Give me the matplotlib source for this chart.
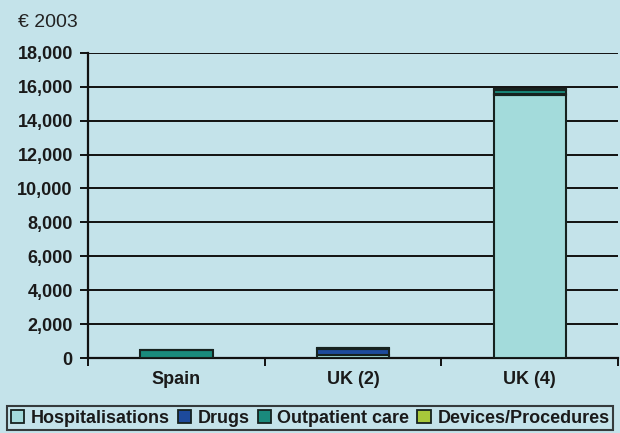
import numpy as np
import matplotlib.pyplot as plt
from matplotlib.patches import Patch

categories = ["Spain", "UK (2)", "UK (4)"]
hospitalisations = [30, 180, 15500]
drugs = [0, 380, 80]
outpatient = [420, 60, 250]
devices = [0, 0, 30]

series = ["Hospitalisations", "Drugs", "Outpatient care", "Devices/Procedures"]
colors = ["#a3dbdb", "#1d4a9c", "#1a8a7c", "#a8c83a"]
yticks = np.arange(0, 18001, 2000)

bg = "#c4e3ea"
plt.rcParams["font.family"] = ["Liberation Sans", "DejaVu Sans"]

fig = plt.figure(figsize=(6.2, 4.33), dpi=100, facecolor=bg)
ax = fig.add_axes([0.142, 0.173, 0.855, 0.705], facecolor=bg)

x = np.arange(len(categories))
bottom = np.zeros(len(categories))
for vals, c in zip([hospitalisations, drugs, outpatient, devices], colors):
    ax.bar(x, vals, 0.41, bottom=bottom, color=c, edgecolor="#16221f",
           linewidth=1.5, zorder=3)
    bottom += np.array(vals)

ax.set_xlim(-0.5, 2.5)
ax.set_ylim(0, 18000)
ax.set_yticks(yticks)
ax.set_yticklabels([f"{v:,}" for v in yticks], fontsize=13, fontweight="bold",
                   color="#1a1a1a")
ax.yaxis.grid(True, color="#111111", linewidth=1.4, zorder=0)
ax.set_axisbelow(True)

# category labels in the middle, ticks on the boundaries
ax.set_xticks(x)
ax.set_xticklabels(categories, fontsize=13, fontweight="bold", color="#1a1a1a")
ax.tick_params(axis="x", length=0, pad=9)
ax.set_xticks([-0.5, 0.5, 1.5, 2.5], minor=True)
ax.tick_params(axis="x", which="minor", length=6, width=1.4, direction="out", color="#111111")
ax.tick_params(axis="y", length=6, width=1.4, direction="out", color="#111111", pad=5)

for s in ["top", "right"]:
    ax.spines[s].set_visible(False)
for s in ["left", "bottom"]:
    ax.spines[s].set_linewidth(1.6)
    ax.spines[s].set_color("#111111")

fig.text(0.029, 0.948, "€ 2003", fontsize=14, color="#222222", va="center")

handles = [Patch(facecolor=c, edgecolor="#16221f", linewidth=1.3) for c in colors]
leg = fig.legend(handles, series, loc="lower center", bbox_to_anchor=(0.5, 0.0),
                 ncol=4, frameon=True, fancybox=False,
                 prop={"weight": "bold", "size": 13},
                 handlelength=0.75, handleheight=0.75, handletextpad=0.35,
                 columnspacing=0.45, borderpad=0.2, borderaxespad=0.15)
leg.get_frame().set_edgecolor("#111111")
leg.get_frame().set_linewidth(1.5)
leg.get_frame().set_facecolor(bg)
for t in leg.get_texts():
    t.set_color("#1a1a1a")

fig.savefig("out.png", dpi=100, facecolor=bg)
